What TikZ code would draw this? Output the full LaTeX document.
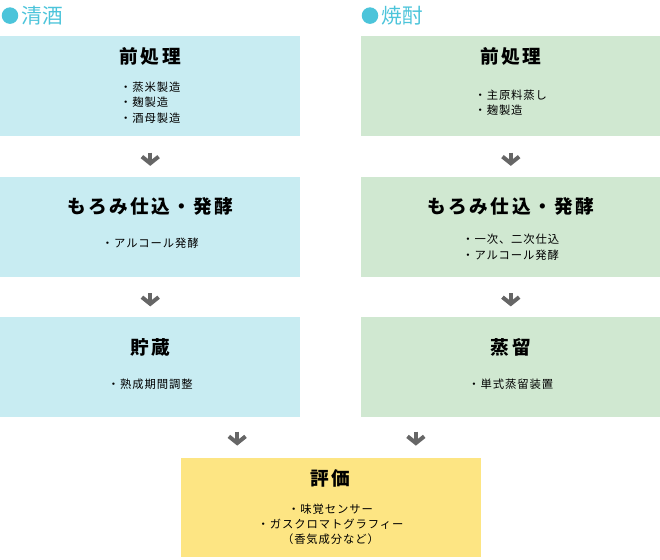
\documentclass[tikz,border=0pt]{standalone}
\usepackage{fontspec}
\setmainfont{Noto Sans CJK JP}
\usetikzlibrary{arrows.meta,positioning,calc}

\definecolor{sakeblue}{HTML}{C8ECF2}
\definecolor{shochugreen}{HTML}{D0E8D1}
\definecolor{hyokayellow}{HTML}{FDE583}
\definecolor{headcyan}{HTML}{4CC4DA}
\definecolor{arrowgray}{HTML}{666666}

\begin{document}
\begin{tikzpicture}[
    node distance=30pt and 45pt,
    b1/.style={rectangle, fill=sakeblue, inner sep=0pt, minimum height=75pt, minimum width=225pt},
    b2/.style={rectangle, fill=shochugreen, inner sep=0pt, minimum height=75pt, minimum width=225pt},
    b3/.style={rectangle, fill=hyokayellow, inner sep=0pt, minimum height=74pt, minimum width=225pt},
    ttl/.style={inner sep=0pt, font=\fontsize{14}{16}\selectfont\bfseries\addfontfeatures{LetterSpace=13}},
    itm/.style={inner sep=0pt, align=left, font=\fontsize{8.5}{11.6}\selectfont\addfontfeatures{LetterSpace=8}},
    dot/.style={circle, fill=headcyan, inner sep=0pt, minimum size=12.4pt},
    hd/.style={inner sep=0pt, text=headcyan, font=\fontsize{15.5}{17}\selectfont},
    arr/.style={-{Straight Barb[length=5pt, width=12.5pt, line width=3pt]}, line width=3pt, draw=arrowgray, shorten <=12pt, shorten >=8pt}
]
    \useasboundingbox (0,0) rectangle (495pt,-420pt);

    % headings
    \node [dot] (sd) at (7.5pt,-11.7pt) {};
    \node [hd, right=2pt of sd] (sh) {清酒};
    \node [dot] (kd) at (277.5pt,-11.7pt) {};
    \node [hd, right=2pt of kd] (kh) {焼酎};

    % boxes
    \node [b1, anchor=north west] (s1) at (0,-27pt) {};
    \node [b1, below=of s1] (s2) {};
    \node [b1, below=of s2] (s3) {};
    \node [b2, right=of s1] (k1) {};
    \node [b2, below=of k1] (k2) {};
    \node [b2, below=of k2] (k3) {};
    \coordinate (mid) at ($(s3.south)!0.5!(k3.south)$);
    \node [b3, below=30pt of mid] (h1) {};

    % texts
    \node [ttl] (s1t) at ([yshift=-15.5pt]s1.north) {前処理};
    \node [itm] (s1i) at ([yshift=-50pt]s1.north) {・蒸米製造\\・麹製造\\・酒母製造};
    \node [ttl] (s2t) at ([yshift=-22.5pt]s2.north) {もろみ仕込・発酵};
    \node [itm] (s2i) at ([yshift=-50pt]s2.north) {・アルコール発酵};
    \node [ttl] (s3t) at ([yshift=-22.5pt]s3.north) {貯蔵};
    \node [itm] (s3i) at ([yshift=-50pt]s3.north) {・熟成期間調整};

    \node [ttl] (k1t) at ([yshift=-15.5pt]k1.north) {前処理};
    \node [itm] (k1i) at ([yshift=-50pt]k1.north) {・主原料蒸し\\・麹製造};
    \node [ttl] (k2t) at ([yshift=-22.5pt]k2.north) {もろみ仕込・発酵};
    \node [itm] (k2i) at ([yshift=-53pt]k2.north) {・一次、二次仕込\\・アルコール発酵};
    \node [ttl] (k3t) at ([yshift=-22.5pt]k3.north) {蒸留};
    \node [itm] (k3i) at ([yshift=-50pt]k3.north) {・単式蒸留装置};

    \node [ttl] (h1t) at ([yshift=-15.5pt]h1.north) {評価};
    \node [itm, align=center] (h1i) at ([yshift=-50pt]h1.north) {・味覚センサー\\・ガスクロマトグラフィー\\（香気成分など）};

    % arrows
    \draw [arr] (s1) -- (s2);
    \draw [arr] (s2) -- (s3);
    \draw [arr] (k1) -- (k2);
    \draw [arr] (k2) -- (k3);
    \coordinate (a1) at ([xshift=-70pt]h1.north);
    \coordinate (a2) at ([xshift=64pt]h1.north);
    \draw [arr, shorten <=10.5pt, shorten >=9pt] (s3.south -| a1) -- (a1);
    \draw [arr, shorten <=10.5pt, shorten >=9pt] (k3.south -| a2) -- (a2);
\end{tikzpicture}
\end{document}
